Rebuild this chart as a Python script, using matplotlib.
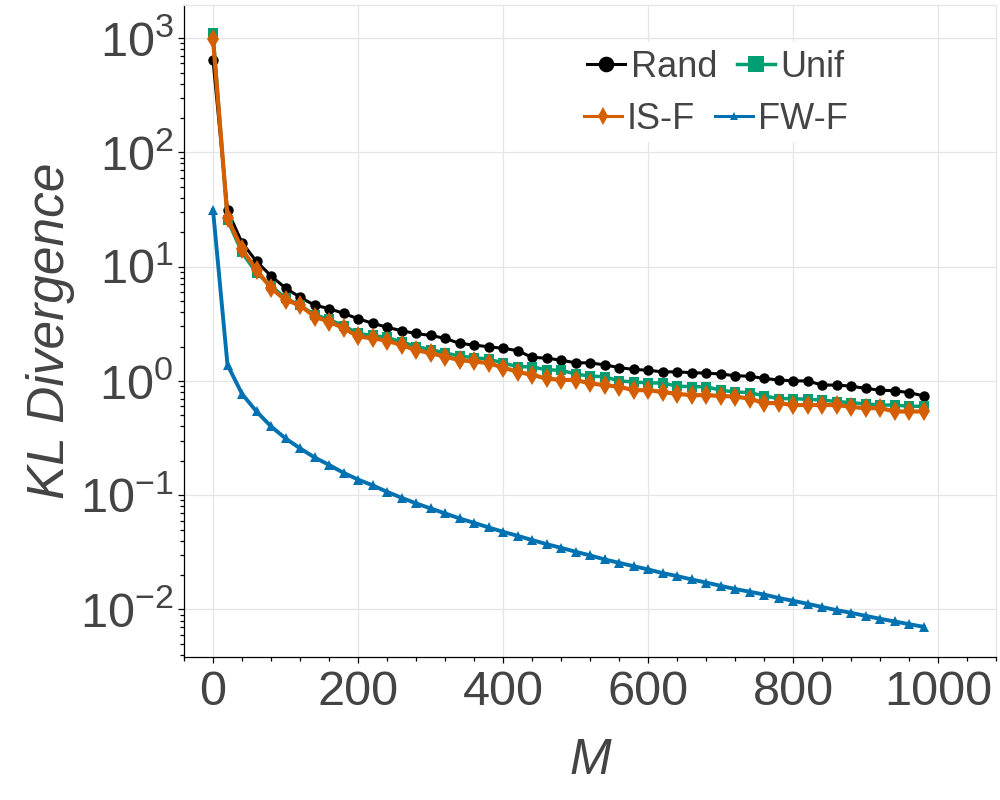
import numpy as np
import matplotlib
matplotlib.use("Agg")
import matplotlib.pyplot as plt
from matplotlib.ticker import MultipleLocator, LogLocator, NullFormatter
from matplotlib.patches import Rectangle

plt.rcParams['font.family'] = ['Liberation Sans', 'DejaVu Sans']
plt.rcParams['mathtext.fontset'] = 'custom'
plt.rcParams['mathtext.rm'] = 'Liberation Sans'
plt.rcParams['mathtext.it'] = 'Liberation Sans:italic'

# values
M = list(range(0, 1000, 20))

rand = [645, 31, 16.2, 11.1, 8.3, 6.5, 5.4, 4.6, 4.3, 3.9,
        3.5, 3.2, 2.95, 2.75, 2.6, 2.5, 2.36, 2.13, 2.06, 1.99,
        1.93, 1.84, 1.61, 1.58, 1.52, 1.44, 1.44, 1.38, 1.31, 1.26,
        1.24, 1.2, 1.2, 1.18, 1.17, 1.15, 1.11, 1.1, 1.05, 1.02,
        1.0, 1.0, 0.92, 0.92, 0.9, 0.86, 0.83, 0.82, 0.79, 0.74]

unif = [1100, 25.6, 13.3, 8.8, 6.8, 5.3, 4.6, 3.8, 3.45, 3.05,
        2.6, 2.5, 2.4, 2.2, 2.0, 1.88, 1.76, 1.65, 1.6, 1.55,
        1.44, 1.33, 1.33, 1.25, 1.24, 1.15, 1.1, 1.09, 1.0, 0.98,
        0.96, 0.96, 0.9, 0.89, 0.89, 0.83, 0.8, 0.79, 0.74, 0.7,
        0.7, 0.69, 0.68, 0.66, 0.645, 0.63, 0.615, 0.615, 0.6, 0.6]

isf = [980, 26.7, 14.2, 9.35, 6.5, 5.1, 4.6, 3.65, 3.3, 2.9,
       2.45, 2.36, 2.25, 2.06, 1.86, 1.75, 1.63, 1.52, 1.48, 1.43,
       1.31, 1.2, 1.13, 1.05, 1.02, 1.02, 0.95, 0.92, 0.89, 0.83,
       0.83, 0.8, 0.77, 0.75, 0.75, 0.74, 0.73, 0.7, 0.64, 0.64,
       0.615, 0.615, 0.615, 0.615, 0.594, 0.575, 0.58, 0.54, 0.54, 0.54]

fwf = [31.4, 1.38, 0.77, 0.54, 0.40, 0.314, 0.257, 0.214, 0.184, 0.157,
       0.137, 0.122, 0.107, 0.0949, 0.0848, 0.0766, 0.0693, 0.0626, 0.0573, 0.0522,
       0.0478, 0.0441, 0.0405, 0.0373, 0.0346, 0.0320, 0.0297, 0.0274, 0.0256, 0.0239,
       0.0224, 0.0208, 0.0196, 0.0183, 0.0172, 0.0161, 0.0151, 0.0143, 0.0135, 0.0126,
       0.0119, 0.0112, 0.0105, 0.00986, 0.00934, 0.00879, 0.00828, 0.00785, 0.00743, 0.00705]

text_col = "#444444"
grid_col = "#e5e5e5"

fig = plt.figure(figsize=(10, 8), dpi=100)
ax = fig.add_axes([0.184, 0.179, 0.812, 0.815])

l_rand, = ax.plot(M, rand, "-o", color="black", lw=2.2, ms=7.5, mew=0, label="Rand", zorder=3)
l_unif, = ax.plot(M, unif, "-s", color="#009E73", lw=2.5, ms=7.5, mew=0, label="Unif", zorder=3)
l_isf, = ax.plot(M, isf, "-d", color="#D55E00", lw=3, ms=10, mew=0, label="IS-F", zorder=3)
l_fwf, = ax.plot(M, fwf, "-^", color="#0072B2", lw=2.8, ms=7, mew=0, label="FW-F", zorder=3)

ax.set_yscale("log")
ax.set_xlim(-40, 1080)
ax.set_ylim(0.00385, 1957)

ax.xaxis.set_major_locator(MultipleLocator(200))
ax.xaxis.set_minor_locator(MultipleLocator(40))
ax.yaxis.set_major_locator(LogLocator(base=10, numticks=20))
ax.yaxis.set_minor_locator(LogLocator(base=10, subs=np.arange(2, 10), numticks=20))
ax.yaxis.set_minor_formatter(NullFormatter())

ax.grid(True, which="major", color=grid_col, lw=0.9)
ax.set_axisbelow(True)

for s in ["top", "right"]:
    ax.spines[s].set_color(grid_col)
    ax.spines[s].set_linewidth(0.9)
for s in ["left", "bottom"]:
    ax.spines[s].set_color("black")
    ax.spines[s].set_linewidth(0.9)

ax.tick_params(which="major", direction="out", length=4.5, width=0.9, color="black",
               labelsize=35, labelcolor=text_col)
ax.tick_params(which="minor", direction="out", length=3, width=0.9, color="black")
ax.tick_params(axis="x", which="major", pad=5)
ax.tick_params(axis="y", which="major", pad=3)

ax.set_xlabel("M", fontsize=36, style="italic", color=text_col)
ax.set_ylabel("KL Divergence", fontsize=37, style="italic", color=text_col)
ax.xaxis.set_label_coords(0.5, -0.125)
ax.yaxis.set_label_coords(-0.134, 0.5)

# legend background box
bg = Rectangle((0.579, 0.8225), 0.283, 0.125, transform=fig.transFigure,
               facecolor="white", edgecolor="none", zorder=2)
ax.add_patch(bg)

leg1 = ax.legend(handles=[l_rand, l_unif], ncol=2, loc="center",
                 bbox_to_anchor=(0.716, 0.916), bbox_transform=fig.transFigure,
                 frameon=False, fontsize=26, handlelength=1.05, handletextpad=0.15,
                 columnspacing=0.55, borderpad=0, markerscale=1.5)
for t in leg1.get_texts():
    t.set_color(text_col)
ax.add_artist(leg1)

leg2 = ax.legend(handles=[l_isf, l_fwf], ncol=2, loc="center",
                 bbox_to_anchor=(0.716, 0.851), bbox_transform=fig.transFigure,
                 frameon=False, fontsize=26, handlelength=1.05, handletextpad=0.15,
                 columnspacing=0.55, borderpad=0, markerscale=0.9)
for t in leg2.get_texts():
    t.set_color(text_col)
for h in leg2.get_lines():
    h.set_linewidth(2.2)

plt.savefig("out.png", dpi=100)
